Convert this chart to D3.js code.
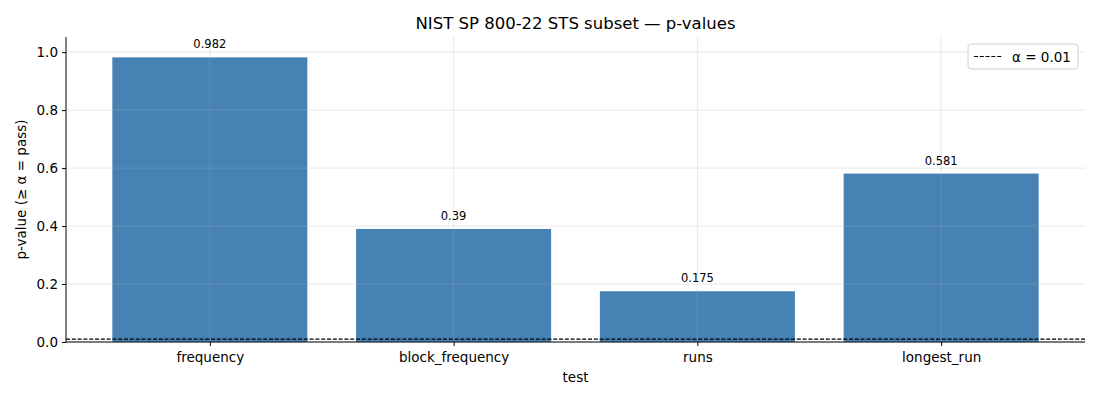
<!DOCTYPE html>
<html>
<head>
<meta charset="utf-8">
<script src="https://cdn.jsdelivr.net/npm/d3@7"></script>
<style>
  body { margin: 0; background: #fff; }
  svg text { font-family: "DejaVu Sans", sans-serif; fill: #000; }
</style>
</head>
<body>
<div id="chart"></div>
<script>
// data
let tests = ["frequency", "block_frequency", "runs", "longest_run"];
let pValues = [0.982, 0.39, 0.175, 0.581];
let valueLabels = ["0.982", "0.39", "0.175", "0.581"];
let yTicks = [0.0, 0.2, 0.4, 0.6, 0.8, 1.0];
let alpha = 0.01;

let width = 1100, height = 400;
let margin = {top: 37, right: 15, bottom: 58, left: 66};
let innerW = width - margin.left - margin.right;
let innerH = height - margin.top - margin.bottom;

let svg = d3.select("#chart").append("svg")
    .attr("width", width)
    .attr("height", height);

let g = svg.append("g")
    .attr("transform", "translate(" + margin.left + "," + margin.top + ")");

// x like matplotlib: bar width 0.8, 5% margins
let x = d3.scaleLinear()
    .domain([-0.59, tests.length - 1 + 0.59])
    .range([0, innerW]);
let barW = x(0.8) - x(0);

let y = d3.scaleLinear()
    .domain([0, d3.max(pValues) * 1.0715])
    .range([innerH, 0]);

// bars
g.selectAll(".bar")
    .data(pValues)
    .enter()
    .append("rect")
    .attr("class", "bar")
    .attr("x", (d, i) => x(i) - barW / 2)
    .attr("y", d => y(d))
    .attr("width", barW)
    .attr("height", d => y(0) - y(d))
    .attr("fill", "#4682b4");

// grid on top of bars
let grid = g.append("g").attr("class", "grid");
grid.selectAll(".hgrid")
    .data(yTicks)
    .enter()
    .append("line")
    .attr("x1", 0).attr("x2", innerW)
    .attr("y1", d => y(d)).attr("y2", d => y(d))
    .attr("stroke", "#b0b0b0").attr("stroke-opacity", 0.35).attr("stroke-width", 0.8);
grid.selectAll(".vgrid")
    .data(tests)
    .enter()
    .append("line")
    .attr("x1", (d, i) => x(i)).attr("x2", (d, i) => x(i))
    .attr("y1", 0).attr("y2", innerH)
    .attr("stroke", "#b0b0b0").attr("stroke-opacity", 0.35).attr("stroke-width", 0.8);

// value labels
g.selectAll(".vlabel")
    .data(pValues)
    .enter()
    .append("text")
    .attr("x", (d, i) => x(i))
    .attr("y", d => y(d) - 9)
    .attr("text-anchor", "middle")
    .attr("font-size", "11.5px")
    .text((d, i) => valueLabels[i]);

// alpha threshold
g.append("line")
    .attr("x1", 0).attr("x2", innerW)
    .attr("y1", y(alpha)).attr("y2", y(alpha))
    .attr("stroke", "#000").attr("stroke-width", 1.1)
    .attr("stroke-dasharray", "4,1.8");

// axes
let yAxis = d3.axisLeft(y).tickValues(yTicks).tickFormat(d3.format(".1f")).tickSize(4).tickPadding(4);
let yg = g.append("g").call(yAxis);
yg.select(".domain").attr("d", "M0," + innerH + "V0").attr("stroke-width", 1);
yg.selectAll("text").attr("font-size", "13.5px");

let xAxis = d3.axisBottom(x).tickValues(d3.range(tests.length)).tickFormat(i => tests[i]).tickSize(4).tickPadding(6);
let xg = g.append("g").attr("transform", "translate(0," + innerH + ")").call(xAxis);
xg.select(".domain").attr("d", "M0,0H" + innerW).attr("stroke-width", 1);
xg.selectAll("text").attr("font-size", "13.5px");

// axis titles
svg.append("text")
    .attr("x", margin.left + innerW / 2)
    .attr("y", 382)
    .attr("text-anchor", "middle")
    .attr("font-size", "13.5px")
    .text("test");

svg.append("text")
    .attr("transform", "translate(26," + (margin.top + innerH / 2) + ") rotate(-90)")
    .attr("text-anchor", "middle")
    .attr("font-size", "13.5px")
    .text("p-value (≥ α = pass)");

// title
svg.append("text")
    .attr("x", margin.left + innerW / 2)
    .attr("y", 29)
    .attr("text-anchor", "middle")
    .attr("font-size", "16.5px")
    .text("NIST SP 800-22 STS subset — p-values");

// legend
let lg = g.append("g").attr("transform", "translate(" + (innerW - 117) + ",7)");
lg.append("rect")
    .attr("width", 110).attr("height", 25).attr("rx", 3)
    .attr("fill", "#fff").attr("fill-opacity", 0.8)
    .attr("stroke", "#d0d0d0");
lg.append("line")
    .attr("x1", 6).attr("x2", 34).attr("y1", 12.5).attr("y2", 12.5)
    .attr("stroke", "#000").attr("stroke-width", 1.1)
    .attr("stroke-dasharray", "4,1.8");
lg.append("text")
    .attr("x", 44).attr("y", 17.5)
    .attr("font-size", "13.5px")
    .text("α = " + alpha);
</script>
</body>
</html>
